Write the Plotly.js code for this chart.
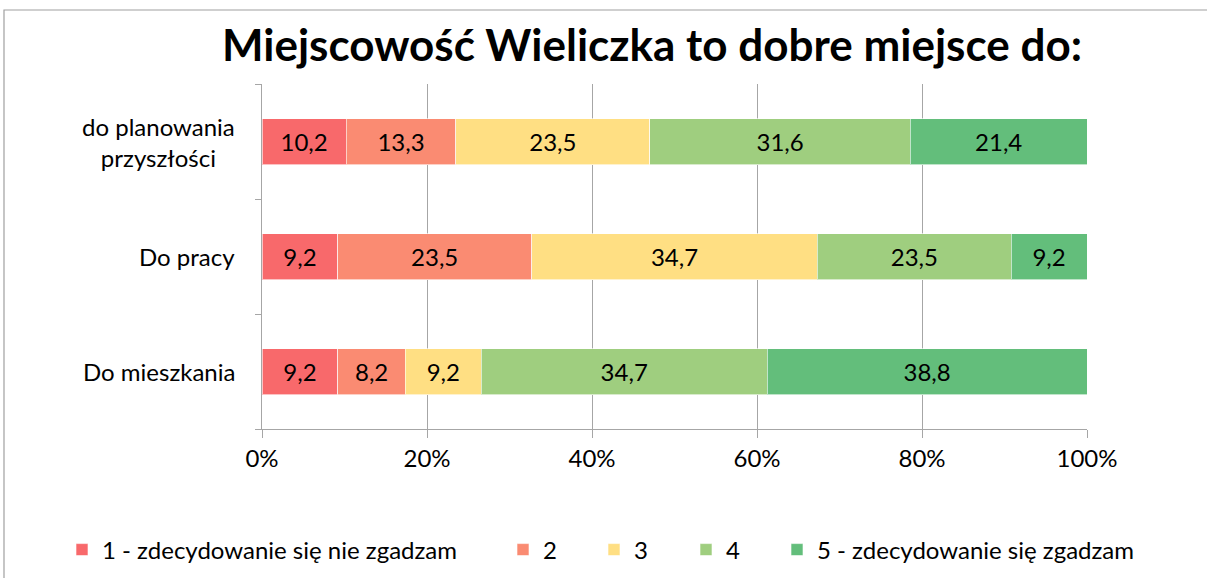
<!DOCTYPE html>
<html>
<head>
<meta charset="utf-8">
<script src="https://cdn.plot.ly/plotly-3.0.1.min.js"></script>
<style>html,body{margin:0;padding:0;background:#fff;}#chart{width:1207px;height:578px;}</style>
</head>
<body>
<div id="chart"></div>
<script>
const categories = ['Do mieszkania', 'Do pracy', 'do planowania przyszłości'];
const categoryLabels = ['Do mieszkania', 'Do pracy', 'do planowania<br>przyszłości'];
const seriesNames = ['1 - zdecydowanie się nie zgadzam', '2', '3', '4', '5 - zdecydowanie się zgadzam'];
const s1 = [9.2, 9.2, 10.2];
const s2 = [8.2, 23.5, 13.3];
const s3 = [9.2, 34.7, 23.5];
const s4 = [34.7, 23.5, 31.6];
const s5 = [38.8, 9.2, 21.4];
const xTickVals = [0, 20, 40, 60, 80, 100];
const xTickText = ['0%', '20%', '40%', '60%', '80%', '100%'];

const seriesValues = [s1, s2, s3, s4, s5];
const colors = ['#F8696B', '#FA8B72', '#FFDF83', '#9FCE7F', '#63BE7B'];
const legendNames = ['legend', 'legend2', 'legend3', 'legend4', 'legend5'];
const legendX = [62, 503, 594, 686, 777];
const FONT = 'Lato, "Open Sans", sans-serif';

const L = 262, R = 1087, T = 84, B = 429;
const px2x = p => (p - L) / (R - L);
const py2y = p => (B - p) / (B - T);

const traces = seriesValues.map((vals, i) => ({
  type: 'bar',
  orientation: 'h',
  name: seriesNames[i],
  y: categories,
  x: vals,
  text: vals.map(v => v.toFixed(1).replace('.', ',')),
  texttemplate: '%{text}',
  textposition: 'inside',
  insidetextanchor: 'middle',
  constraintext: 'none',
  textfont: {family: FONT, size: 24, color: '#000'},
  marker: {color: colors[i], line: {color: 'rgba(255,255,255,0.6)', width: 1}},
  hoverinfo: 'skip',
  legend: legendNames[i]
}));

const layout = {
  width: 1207,
  height: 578,
  margin: {l: L, r: 1207 - R, t: T, b: 578 - B, pad: 0, autoexpand: false},
  paper_bgcolor: '#fff',
  plot_bgcolor: '#fff',
  barmode: 'stack',
  barnorm: 'percent',
  bargap: 0.6,
  font: {family: FONT, size: 24, color: '#000'},
  title: {
    text: '<b>Miejscowość Wieliczka to dobre miejsce do:</b>',
    font: {family: FONT, size: 44, color: '#000'},
    x: 652 / 1207, xanchor: 'center', xref: 'container',
    y: 1 - 46 / 578, yanchor: 'middle', yref: 'container'
  },
  xaxis: {
    range: [0, 100],
    tickvals: xTickVals,
    ticktext: xTickText,
    showgrid: true,
    gridcolor: '#A6A6A6',
    gridwidth: 1,
    zeroline: false,
    showline: true,
    linecolor: '#A6A6A6',
    linewidth: 1,
    ticks: 'outside',
    ticklen: 8,
    tickcolor: '#A6A6A6',
    tickfont: {family: FONT, size: 24, color: '#000'},
    automargin: false,
    fixedrange: true
  },
  yaxis: {
    type: 'category',
    categoryorder: 'array',
    categoryarray: categories,
    range: [-0.5, 2.5],
    showticklabels: false,
    showline: true,
    linecolor: '#A6A6A6',
    linewidth: 1,
    ticks: 'outside',
    tickson: 'boundaries',
    ticklen: 6,
    tickcolor: '#A6A6A6',
    showgrid: false,
    zeroline: false,
    automargin: false,
    fixedrange: true
  },
  annotations: categories.map((c, i) => ({
    x: 0, xref: 'paper', xanchor: 'right', xshift: -25,
    y: c, yref: 'y', yanchor: 'middle',
    text: categoryLabels[i],
    align: 'center',
    showarrow: false,
    font: {family: FONT, size: 24, color: '#000'}
  })),
  shapes: [{
    type: 'rect', xref: 'paper', yref: 'paper',
    x0: px2x(4), x1: px2x(1300), y0: py2y(700), y1: py2y(10),
    line: {color: '#A0A0A0', width: 1.2}, fillcolor: 'rgba(0,0,0,0)', layer: 'below'
  }],
  showlegend: true
};

legendNames.forEach((ln, i) => {
  layout[ln] = {
    orientation: 'h',
    x: px2x(legendX[i]), xanchor: 'left', xref: 'paper',
    y: py2y(550), yanchor: 'middle', yref: 'paper',
    bgcolor: 'rgba(0,0,0,0)',
    borderwidth: 0,
    font: {family: FONT, size: 24, color: '#000'},
    itemwidth: 30,
    itemclick: false, itemdoubleclick: false
  };
});

Plotly.newPlot('chart', traces, layout, {displayModeBar: false, staticPlot: true});
</script>
</body>
</html>
